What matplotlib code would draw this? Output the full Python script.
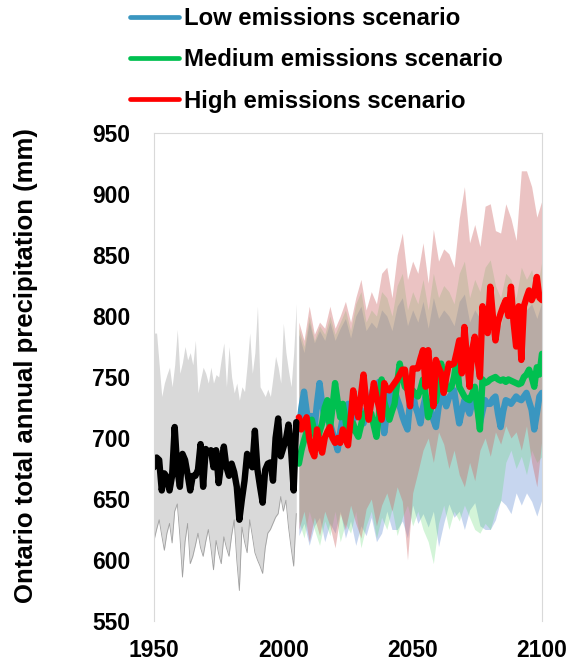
import numpy as np
import matplotlib.pyplot as plt
from matplotlib.lines import Line2D

plt.rcParams['font.family'] = ['Liberation Sans', 'DejaVu Sans']

# observed record 1950-2005
obs_years = np.arange(1950, 2006)
obs = [676, 684, 682, 657, 671, 668, 657, 669, 709, 675,
       660, 687, 682, 670, 657, 669, 669, 674, 695, 660,
       691, 688, 690, 676, 690, 663, 680, 693, 676, 669,
       679, 672, 660, 633, 650, 665, 687, 680, 676, 706,
       674, 660, 647, 674, 679, 680, 665, 700, 716, 685,
       692, 699, 711, 690, 657, 713]

# historical model range
hist_hi = [786, 786, 760, 734, 745, 752, 758, 742, 760, 789,
           753, 762, 775, 764, 770, 760, 780, 737, 748, 758,
           753, 745, 758, 745, 752, 750, 765, 778, 742, 775,
           750, 737, 745, 731, 742, 738, 760, 786, 753, 770,
           808, 742, 738, 734, 740, 734, 750, 767, 758, 745,
           794, 770, 755, 742, 770, 810]
hist_lo = [616, 625, 633, 620, 608, 622, 630, 614, 640, 646,
           620, 586, 615, 630, 597, 603, 612, 622, 610, 603,
           615, 625, 610, 592, 616, 605, 597, 619, 610, 603,
           620, 633, 600, 575, 627, 615, 606, 633, 620, 606,
           600, 595, 589, 610, 622, 625, 630, 635, 638, 652,
           640, 649, 627, 610, 595, 638]

# scenario ranges (every second year 2006-2100)
band_years = np.arange(2006, 2101, 2)
low_hi = [785, 770, 795, 778, 788, 780, 795, 780, 790, 798, 782, 800,
          808, 788, 795, 790, 805, 800, 788, 808, 815, 792, 805, 795,
          812, 790, 815, 798, 805, 800, 792, 812, 818, 795, 805, 798,
          812, 815, 800, 792, 808, 805, 795, 812, 805, 810, 798, 812]
low_lo = [620, 630, 612, 628, 635, 615, 630, 622, 640, 618, 632, 612,
          628, 620, 635, 615, 622, 640, 625, 625, 632, 618, 645, 630,
          638, 627, 640, 611, 630, 646, 635, 640, 625, 641, 647, 628,
          625, 625, 633, 649, 645, 638, 655, 645, 655, 648, 636, 650]
med_hi = [790, 775, 800, 780, 792, 785, 800, 785, 795, 805, 788, 810,
          820, 795, 805, 800, 820, 815, 800, 825, 835, 805, 820, 810,
          830, 805, 835, 815, 825, 820, 810, 835, 845, 815, 830, 820,
          840, 846, 825, 815, 835, 830, 815, 840, 830, 838, 820, 846]
med_lo = [632, 618, 640, 625, 612, 632, 620, 640, 615, 630, 622, 640,
          610, 628, 640, 618, 635, 625, 642, 620, 635, 645, 628, 640,
          625, 615, 597, 630, 645, 625, 640, 632, 645, 635, 625, 622,
          630, 625, 640, 648, 680, 690, 675, 685, 670, 690, 680, 685]
high_hi = [795, 780, 808, 785, 795, 790, 808, 790, 800, 812, 795, 815,
           830, 805, 820, 810, 835, 840, 815, 850, 868, 830, 845, 835,
           860, 827, 871, 845, 855, 851, 840, 880, 906, 860, 875, 857,
           890, 892, 870, 868, 892, 880, 862, 919, 919, 906, 881, 895]
high_lo = [625, 640, 615, 635, 620, 640, 628, 610, 638, 625, 645, 630,
           618, 642, 650, 628, 645, 655, 640, 660, 648, 600, 655, 672,
           690, 700, 680, 705, 695, 675, 690, 670, 660, 680, 665, 690,
           700, 685, 705, 695, 710, 700, 705, 690, 710, 680, 660, 700]

# scenario ensemble means 2006-2100
scen_years = np.arange(2006, 2101)
low = [707, 725, 738, 722, 712, 718, 707, 728, 745, 728,
       715, 720, 712, 705, 698, 690, 705, 717, 722, 728,
       720, 715, 718, 720, 723, 712, 720, 728, 735, 742,
       738, 746, 725, 704, 720, 737, 730, 739, 732, 726,
       718, 712, 707, 730, 739, 726, 720, 712, 725, 734,
       726, 723, 715, 709, 725, 739, 732, 726, 733, 736,
       739, 725, 712, 722, 731, 725, 720, 728, 737, 725,
       712, 722, 731, 728, 728, 732, 734, 720, 709, 722,
       731, 730, 728, 731, 734, 732, 731, 734, 737, 730,
       723, 707, 720, 734, 737]
medium = [679, 690, 698, 705, 709, 715, 705, 696, 705, 712,
          725, 731, 707, 725, 745, 730, 717, 728, 715, 701,
          708, 712, 705, 701, 710, 720, 720, 722, 720, 710,
          701, 720, 748, 730, 722, 715, 722, 728, 745, 761,
          750, 742, 740, 738, 739, 736, 734, 740, 748, 735,
          717, 725, 734, 730, 745, 761, 750, 742, 740, 742,
          750, 764, 742, 738, 734, 732, 731, 736, 742, 725,
          707, 748, 745, 746, 748, 749, 750, 748, 747, 748,
          746, 748, 747, 746, 745, 744, 745, 750, 752, 756,
          750, 742, 758, 752, 769]
high = [717, 707, 712, 717, 700, 690, 685, 707, 695, 688,
        700, 705, 709, 700, 696, 700, 696, 707, 700, 694,
        715, 739, 725, 717, 735, 752, 730, 715, 730, 745,
        734, 725, 715, 745, 740, 739, 742, 745, 748, 752,
        756, 756, 740, 726, 757, 757, 757, 765, 772, 742,
        772, 750, 726, 764, 758, 753, 737, 750, 761, 760,
        761, 770, 780, 753, 791, 765, 742, 772, 783, 765,
        750, 808, 795, 786, 824, 800, 780, 795, 802, 808,
        813, 800, 824, 795, 775, 808, 764, 808, 815, 821,
        813, 818, 832, 815, 813]

labels = ['Low emissions scenario', 'Medium emissions scenario', 'High emissions scenario']
line_colors = ['#3a96c0', '#00c050', '#ff0000']

fig = plt.figure(figsize=(5.73, 6.70), dpi=100)
ax = fig.add_axes([154 / 573, 1 - 621 / 670, 388 / 573, 488 / 670])

ax.fill_between(obs_years, hist_lo, hist_hi, color='#d9d9d9', lw=0)
ax.plot(obs_years, hist_lo, color='#a0a0a0', lw=0.6)
ax.fill_between(band_years, low_lo, low_hi, color='#487acd', alpha=0.3, lw=0)
ax.fill_between(band_years, med_lo, med_hi, color='#50d764', alpha=0.25, lw=0)
ax.fill_between(band_years, high_lo, high_hi, color='#cf6b6b', alpha=0.4, lw=0)

for vals, c in zip([low, medium, high], line_colors):
    ax.plot(scen_years, vals, color=c, lw=4.6, solid_joinstyle='round', solid_capstyle='round')
ax.plot(obs_years, obs, color='black', lw=4.6, solid_joinstyle='round', solid_capstyle='round')

ax.set_xlim(1950, 2100)
ax.set_ylim(550, 950)
ax.set_xticks([1950, 2000, 2050, 2100])
ax.set_yticks(np.arange(550, 951, 50))
ax.tick_params(length=0, labelsize=16.5)
ax.tick_params(axis='y', pad=17)
ax.tick_params(axis='x', pad=13)
for t in ax.get_xticklabels() + ax.get_yticklabels():
    t.set_fontweight('bold')
for s in ['top', 'left', 'right']:
    ax.spines[s].set_color('#d9d9d9')
ax.spines['bottom'].set_visible(False)

ax.set_ylabel('Ontario total annual precipitation (mm)', fontsize=18.5, fontweight='bold')
ax.yaxis.set_label_coords(-0.299, 0.5225)

handles = [Line2D([], [], color=c, lw=3.4, solid_capstyle='round') for c in line_colors]
fig.legend(handles, labels, loc='upper left', bbox_to_anchor=(120 / 573, 1.004),
           frameon=False, prop={'size': 17.2, 'weight': 'bold'},
           handlelength=2.09, handletextpad=0.2, labelspacing=0.77, borderaxespad=0)

fig.savefig('out.png', dpi=100)
